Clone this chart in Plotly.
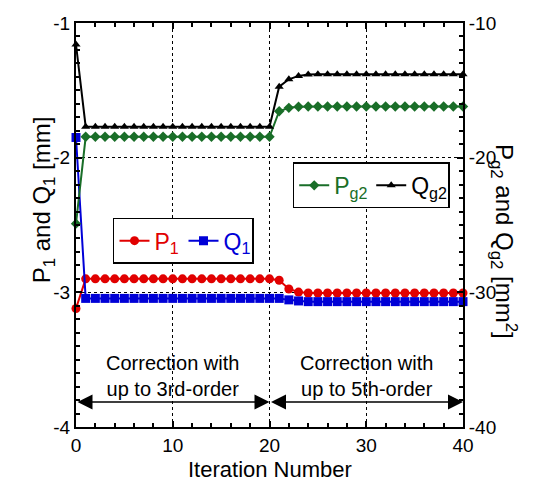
import plotly.graph_objects as go

iterations = list(range(41))
p1 = [-3.12, -2.90, -2.90, -2.90, -2.90, -2.90, -2.90, -2.90, -2.90, -2.90, -2.90,
      -2.90, -2.90, -2.90, -2.90, -2.90, -2.90, -2.90, -2.90, -2.90, -2.90,
      -2.91, -2.975, -2.998, -3.005, -3.005, -3.005, -3.005, -3.005, -3.005, -3.005,
      -3.005, -3.005, -3.005, -3.005, -3.005, -3.005, -3.005, -3.005, -3.005, -3.005]
q1 = [-1.85, -3.045, -3.045, -3.045, -3.045, -3.045, -3.045, -3.045, -3.045, -3.045, -3.045,
      -3.045, -3.045, -3.045, -3.045, -3.045, -3.045, -3.045, -3.045, -3.045, -3.045,
      -3.045, -3.056, -3.064, -3.069, -3.069, -3.069, -3.069, -3.069, -3.069, -3.069,
      -3.069, -3.069, -3.069, -3.069, -3.069, -3.069, -3.069, -3.069, -3.069, -3.069]
pg2 = [-24.9, -18.45, -18.45, -18.45, -18.45, -18.45, -18.45, -18.45, -18.45, -18.45, -18.45,
       -18.45, -18.45, -18.45, -18.45, -18.45, -18.45, -18.45, -18.45, -18.45, -18.45,
       -16.55, -16.3, -16.22, -16.2, -16.2, -16.2, -16.2, -16.2, -16.2, -16.2,
       -16.2, -16.2, -16.2, -16.2, -16.2, -16.2, -16.2, -16.2, -16.2, -16.2]
qg2 = [-11.6, -17.7, -17.7, -17.7, -17.7, -17.7, -17.7, -17.7, -17.7, -17.7, -17.7,
       -17.7, -17.7, -17.7, -17.7, -17.7, -17.7, -17.7, -17.7, -17.7, -17.7,
       -14.73, -14.18, -13.93, -13.83, -13.8, -13.8, -13.8, -13.8, -13.8, -13.8,
       -13.8, -13.8, -13.8, -13.8, -13.8, -13.8, -13.8, -13.8, -13.8, -13.8]

x_ticks = [0, 10, 20, 30, 40]
x_ticktext = ["0", "10", "20", "30", "40"]
y1_ticks = [-4, -3, -2, -1]
y1_ticktext = ["-4", "-3", "-2", "-1"]
y2_ticks = [-40, -30, -20, -10]
y2_ticktext = ["-40", "-30", "-20", "-10"]
phase_bounds = [0, 20, 40]
phase_labels = ["Correction with<br>up to 3rd-order", "Correction with<br>up to 5th-order"]
arrow_level = -3.815
label_level = -3.62

RED = "rgb(225,0,0)"
BLUE = "rgb(0,0,215)"
GREEN = "rgb(25,110,40)"
FONT = "Liberation Sans, Arial, sans-serif"

fig = go.Figure()
fig.add_trace(go.Scatter(x=iterations, y=pg2, yaxis="y2", mode="lines+markers",
                         name='<span style="color:rgb(25,110,40)">P<sub>g2</sub></span>',
                         line=dict(color=GREEN, width=2), cliponaxis=False,
                         marker=dict(symbol="diamond", size=8, color=GREEN),
                         legend="legend2"))
fig.add_trace(go.Scatter(x=iterations, y=qg2, yaxis="y2", mode="lines+markers",
                         name="Q<sub>g2</sub>",
                         line=dict(color="black", width=2), cliponaxis=False,
                         marker=dict(symbol="triangle-up", size=8, color="black"),
                         legend="legend2"))
fig.add_trace(go.Scatter(x=iterations, y=p1, mode="lines+markers",
                         name='<span style="color:rgb(225,0,0)">P<sub>1</sub></span>',
                         line=dict(color=RED, width=2), cliponaxis=False,
                         marker=dict(symbol="circle", size=9, color=RED),
                         legend="legend"))
fig.add_trace(go.Scatter(x=iterations, y=q1, mode="lines+markers",
                         name='<span style="color:rgb(0,0,215)">Q<sub>1</sub></span>',
                         line=dict(color=BLUE, width=2), cliponaxis=False,
                         marker=dict(symbol="square", size=9, color=BLUE),
                         legend="legend"))

annotations = []
for i in range(2):
    x0, x1 = phase_bounds[i], phase_bounds[i + 1]
    annotations.append(dict(x=x1, y=arrow_level, ax=x0, ay=arrow_level, xref="x", yref="y",
                            axref="x", ayref="y", text="", showarrow=True,
                            arrowhead=2, startarrowhead=2, arrowside="end+start",
                            arrowsize=2, startarrowsize=2, arrowwidth=1.5,
                            arrowcolor="black", standoff=0, startstandoff=0))
    annotations.append(dict(x=(x0 + x1) / 2, y=label_level, xref="x", yref="y",
                            text=phase_labels[i], showarrow=False,
                            font=dict(size=20, color="black", family=FONT)))
annotations.append(dict(x=-0.127, y=0.562, xref="paper", yref="paper",
                        text="P<sub>1</sub> and Q<sub>1</sub> [mm]",
                        textangle=-90, showarrow=False,
                        font=dict(size=24, color="black", family=FONT)))
annotations.append(dict(x=1.155, y=0.458, xref="paper", yref="paper",
                        text="P<sub>g2</sub> and Q<sub>g2</sub> [mm<sup>2</sup>]",
                        textangle=90, showarrow=False,
                        font=dict(size=24, color="black", family=FONT)))
annotations.append(dict(x=0.5, y=0.0, xref="paper", yref="paper", yshift=-57,
                        text="Iteration Number", showarrow=False, yanchor="bottom",
                        font=dict(size=22, color="black", family=FONT)))

axis_common = dict(showline=True, linecolor="black", linewidth=2, ticks="inside",
                   tickcolor="black", tickwidth=1.5, ticklen=6,
                   tickfont=dict(size=19, color="black", family=FONT), zeroline=False)

fig.update_layout(
    width=542, height=481,
    margin=dict(l=76, r=79, t=23, b=54),
    paper_bgcolor="white", plot_bgcolor="white",
    font=dict(family=FONT, color="black"),
    xaxis=dict(range=[0, 40], tickvals=x_ticks, ticktext=x_ticktext, mirror="ticks",
               showgrid=True, gridcolor="black", griddash="dot", gridwidth=1,
               minor=dict(dtick=2, ticks="inside", ticklen=4, tickcolor="black", tickwidth=1.5),
               **axis_common),
    yaxis=dict(range=[-4, -1], tickvals=y1_ticks, ticktext=y1_ticktext, mirror=True,
               showgrid=True, gridcolor="black", griddash="dot", gridwidth=1,
               minor=dict(dtick=0.1, ticks="inside", ticklen=4, tickcolor="black", tickwidth=1.5),
               **axis_common),
    yaxis2=dict(range=[-40, -10], tickvals=y2_ticks, ticktext=y2_ticktext,
                overlaying="y", side="right", showgrid=False,
                minor=dict(dtick=1, ticks="inside", ticklen=4, tickcolor="black", tickwidth=1.5),
                **axis_common),
    legend=dict(x=0.0956, y=0.518, xanchor="left", yanchor="top", orientation="h",
                bgcolor="white", bordercolor="black", borderwidth=1.5,
                font=dict(size=23, family=FONT), itemwidth=30, entrywidth=24,
                traceorder="normal"),
    legend2=dict(x=0.56, y=0.655, xanchor="left", yanchor="top", orientation="h",
                 bgcolor="white", bordercolor="black", borderwidth=1.5,
                 font=dict(size=23, family=FONT), itemwidth=30, entrywidth=32,
                 traceorder="normal"),
    annotations=annotations,
    showlegend=True,
)

fig.write_html("out.html", config={"displayModeBar": False},
               post_script="document.body.style.margin='0';")
